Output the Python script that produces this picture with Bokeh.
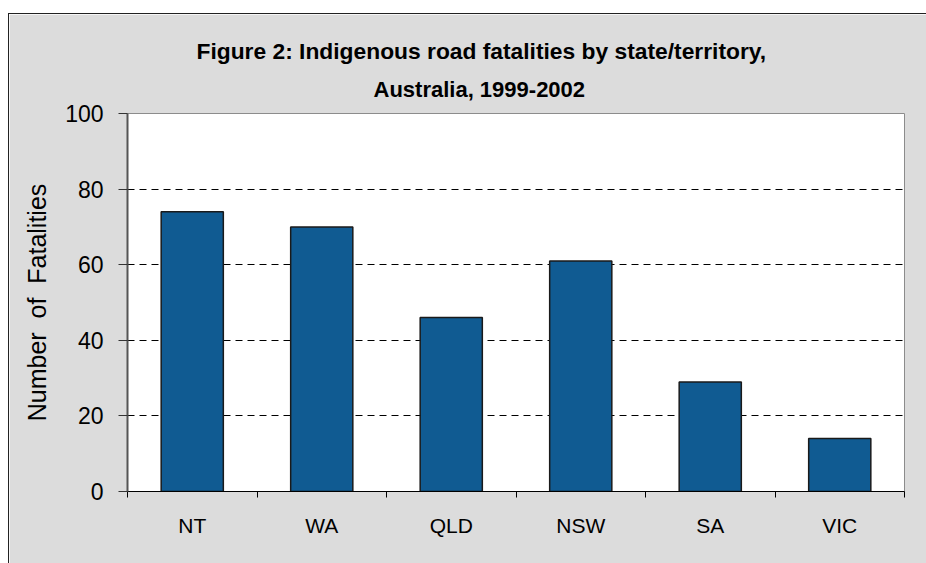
import numpy as np
from bokeh.plotting import figure
from bokeh.models import Range1d, FixedTicker, Title
from bokeh.embed import file_html
from bokeh.resources import INLINE

# ---- data ----
states = ["NT", "WA", "QLD", "NSW", "SA", "VIC"]
fatalities = [74, 70, 46, 61, 29, 14]
y_ticks = [0, 20, 40, 60, 80, 100]
title_line1 = "Figure 2: Indigenous road fatalities by state/territory,"
title_line2 = "Australia, 1999-2002"
y_label = "Number \u00a0of \u00a0Fatalities"

FONT = "Liberation Sans"
BG = "#dcdcdc"

n = len(states)
centers = [i + 0.5 for i in range(n)]
boundaries = list(range(n + 1))

p = figure(
    x_range=Range1d(0, n), y_range=Range1d(0, 100),
    frame_width=777, frame_height=378,
    min_border_left=118, min_border_top=99, min_border_right=22, min_border_bottom=72,
    output_backend="svg", toolbar_location=None,
    background_fill_color="white", border_fill_color=BG,
    outline_line_color="#8c8c8c", outline_line_width=1,
)
p.margin = (13, 0, 0, 8)
p.styles = {"border-top": "1px solid #222", "border-left": "1px solid #222"}
p.title.visible = False

p.vbar(x=centers, top=fatalities, width=0.48, bottom=0,
       fill_color="#105b92", line_color="#1a1a1a", line_width=1.5)

# two-line title (line 2 nearest the frame), left-aligned with offsets
t2 = Title(text=title_line2, align="left", offset=246, standoff=23,
           text_font=FONT, text_font_size="22px", text_font_style="bold", text_color="black")
t1 = Title(text=title_line1, align="left", offset=69, standoff=0,
           text_font=FONT, text_font_size="22.8px", text_font_style="bold", text_color="black")
p.add_layout(t2, "above")
p.add_layout(t1, "above")

# x axis
xa = p.xaxis[0]
xa.ticker = FixedTicker(ticks=centers, minor_ticks=boundaries)
xa.major_label_overrides = {c: s for c, s in zip(centers, states)}
xa.major_tick_line_color = None
xa.major_tick_in = 0
xa.major_tick_out = 6
xa.minor_tick_in = 0
xa.minor_tick_out = 6
xa.minor_tick_line_color = "black"
xa.axis_line_color = "black"
xa.axis_line_width = 1
xa.major_label_standoff = 16
xa.major_label_text_font = FONT
xa.major_label_text_font_size = "21px"
xa.major_label_text_color = "black"

# y axis
ya = p.yaxis[0]
ya.ticker = FixedTicker(ticks=y_ticks)
ya.minor_tick_line_color = None
ya.major_tick_in = 0
ya.major_tick_out = 9
ya.major_tick_line_color = "#333333"
ya.axis_line_color = "#555555"
ya.axis_line_width = 2
ya.major_label_standoff = 15
ya.major_label_text_font = FONT
ya.major_label_text_font_size = "23px"
ya.major_label_text_color = "black"
ya.axis_label = y_label
ya.axis_label_text_font = FONT
ya.axis_label_text_font_size = "25px"
ya.axis_label_text_font_style = "normal"
ya.axis_label_text_color = "black"
ya.axis_label_standoff = 11

# grid
p.xgrid.visible = False
p.ygrid.ticker = FixedTicker(ticks=[20, 40, 60, 80])
p.ygrid.grid_line_color = "black"
p.ygrid.grid_line_dash = "7 5"
p.ygrid.grid_line_width = 1

open("out.html", "w").write(file_html(p, INLINE))
